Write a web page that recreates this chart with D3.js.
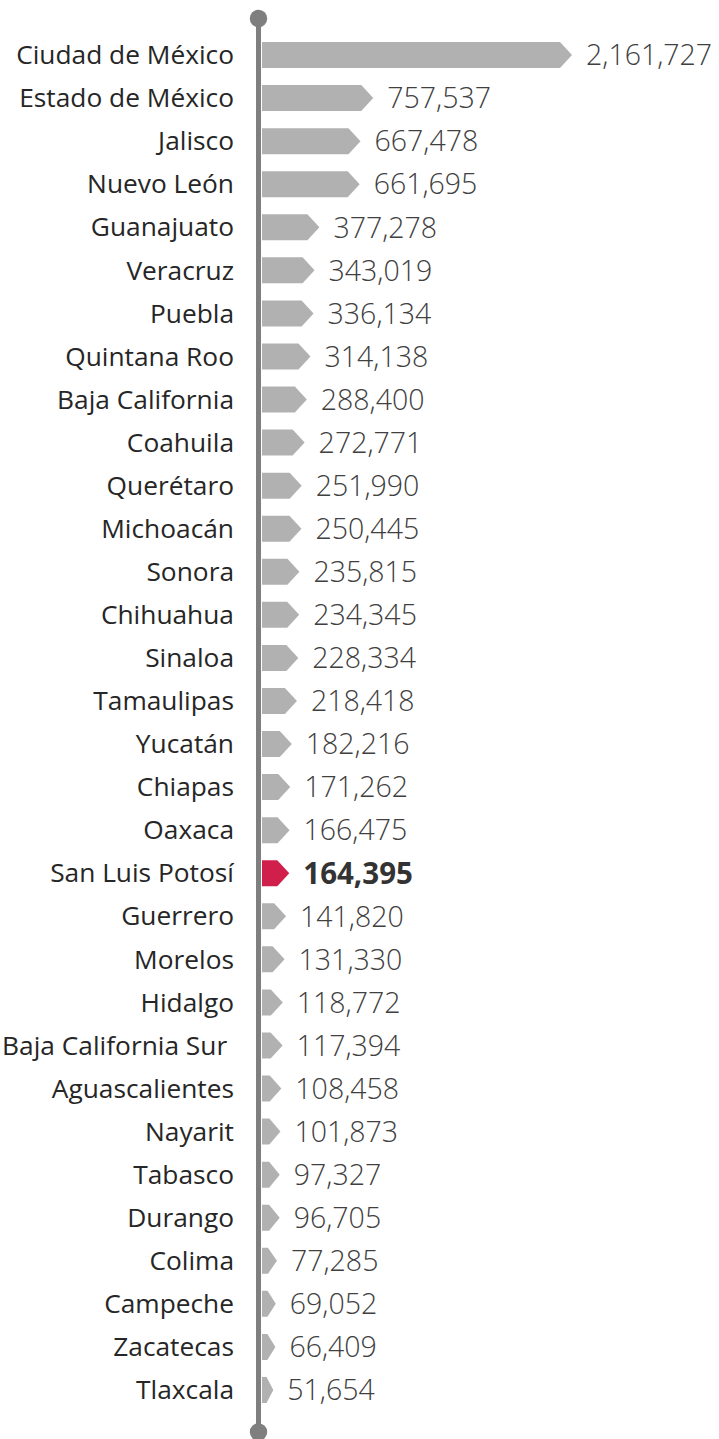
<!DOCTYPE html>
<html>
<head>
<meta charset="utf-8">
<script src="https://cdn.jsdelivr.net/npm/d3@7/dist/d3.min.js"></script>
<style>
  html, body { margin: 0; padding: 0; background: #fff; }
  svg { display: block; }
  .label { font-family: "Open Sans", "Noto Sans", sans-serif; font-size: 26.3px; fill: #262626; white-space: pre; }
  .value { font-family: "Open Sans", "Noto Sans", sans-serif; font-size: 28.5px; font-weight: 300; fill: #404040; }
  .value.hl { font-weight: 700; fill: #333; font-size: 29.5px; }
</style>
</head>
<body>
<svg id="chart" width="719" height="1439"></svg>
<script>
// --- DATA ---
const states = [
  "Ciudad de México", "Estado de México", "Jalisco", "Nuevo León", "Guanajuato",
  "Veracruz", "Puebla", "Quintana Roo", "Baja California", "Coahuila",
  "Querétaro", "Michoacán", "Sonora", "Chihuahua", "Sinaloa",
  "Tamaulipas", "Yucatán", "Chiapas", "Oaxaca", "San Luis Potosí",
  "Guerrero", "Morelos", "Hidalgo", "Baja California Sur ", "Aguascalientes",
  "Nayarit", "Tabasco", "Durango", "Colima", "Campeche",
  "Zacatecas", "Tlaxcala"
];
const values = [
  2161727, 757537, 667478, 661695, 377278,
  343019, 336134, 314138, 288400, 272771,
  251990, 250445, 235815, 234345, 228334,
  218418, 182216, 171262, 166475, 164395,
  141820, 131330, 118772, 117394, 108458,
  101873, 97327, 96705, 77285, 69052,
  66409, 51654
];
const highlight = "San Luis Potosí";

// --- CONFIG ---
const axisX = 258.5;
const barX0 = 262;
const barH = 26;
const grey = "#b1b1b1";
const red = "#d11f4b";

const rows = states.map((s, i) => ({ name: s, value: values[i] }));

const svg = d3.select("#chart");

const y = d3.scalePoint().domain(states).range([55, 1390]);
const x = d3.scaleLinear().domain([0, d3.max(values)]).range([0, 306]);

// bar length to the arrow tip (small fixed base so tiny bars still show)
const barLen = d => 4 + x(d.value);

function arrowPath(d) {
  const w = barLen(d);
  const t = Math.min(12, w * 0.6);
  const cy = y(d.name);
  const p = d3.path();
  p.moveTo(barX0, cy - barH / 2);
  p.lineTo(barX0 + w - t, cy - barH / 2);
  p.lineTo(barX0 + w, cy);
  p.lineTo(barX0 + w - t, cy + barH / 2);
  p.lineTo(barX0, cy + barH / 2);
  p.closePath();
  return p.toString();
}

// bars
svg.append("g").selectAll("path")
  .data(rows)
  .join("path")
  .attr("d", arrowPath)
  .attr("fill", d => d.name === highlight ? red : grey);

// axis line with round ends
const axisG = svg.append("g");
axisG.append("line")
  .attr("x1", axisX).attr("x2", axisX)
  .attr("y1", 18.5).attr("y2", 1432)
  .attr("stroke", "#7f7f7f")
  .attr("stroke-width", 5);
axisG.selectAll("circle")
  .data([18.5, 1432])
  .join("circle")
  .attr("cx", axisX)
  .attr("cy", d => d)
  .attr("r", 8.7)
  .attr("fill", "#7f7f7f");

// category labels
svg.append("g").selectAll("text")
  .data(rows)
  .join("text")
  .attr("class", "label")
  .attr("x", 234)
  .attr("y", d => y(d.name))
  .attr("dy", "0.35em")
  .attr("text-anchor", "end")
  .text(d => d.name);

// value labels
const fmt = d3.format(",");
svg.append("g").selectAll("text")
  .data(rows)
  .join("text")
  .attr("class", d => d.name === highlight ? "value hl" : "value")
  .attr("x", d => barX0 + barLen(d) + 14)
  .attr("y", d => y(d.name))
  .attr("dy", "0.36em")
  .text(d => fmt(d.value));
</script>
</body>
</html>
